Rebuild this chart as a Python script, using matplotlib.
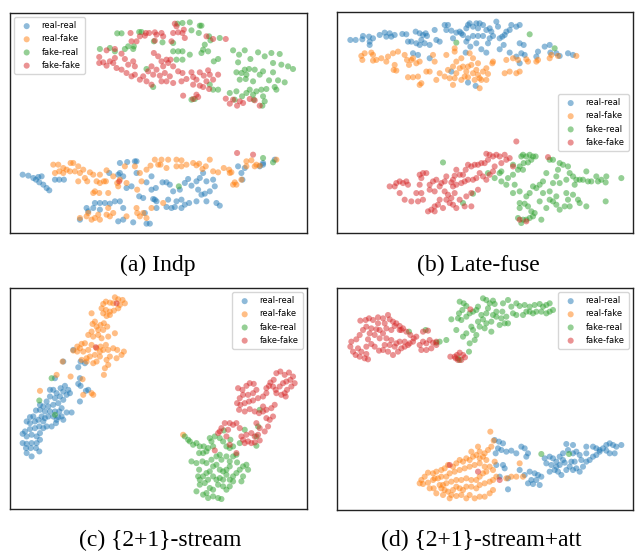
import matplotlib
matplotlib.use("Agg")
import matplotlib.pyplot as plt
import numpy as np

labels = ["real-real", "real-fake", "fake-real", "fake-fake"]
colors = ["#1f77b4", "#ff7f0e", "#2ca02c", "#d62728"]
captions = ["(a) Indp", "(b) Late-fuse", "(c) {2+1}-stream", "(d) {2+1}-stream+att"]

# ---------------- (a) Indp ----------------
indp_real_real = [(68,525),(85,528),(100,535),(108,540),(115,532),(125,530),(118,548),(130,555),(140,565),(148,572),
    (165,540),(178,540),(192,540),(360,490),(382,487),(405,485),(410,485),(328,520),(355,525),(360,520),(370,530),
    (380,565),(395,560),(410,520),(440,548),(455,530),(455,570),(468,565),(488,548),(500,548),(510,555),(520,575),
    (540,570),(555,550),(565,538),(575,558),(590,545),(600,535),(610,520),(620,545),(640,540),(645,560),(630,575),
    (605,585),(615,582),(595,570),(460,598),(470,605),(430,595),(418,590),(505,600),(530,605),(545,600),(555,615),
    (568,610),(590,605),(620,605),(650,610),(660,618),(500,622),(515,625),(525,622),(545,625),(360,605),(345,605),
    (330,612),(315,610),(300,610),(285,610),(265,635),(300,630),(370,625),(400,668),(440,672),(450,672),(370,660),
    (355,665),(715,500),(725,520),(735,505),(728,540),(790,495),(780,500),(790,490),(825,480),(470,625),(465,600),
    (435,640),(260,625),(280,625),(240,660)]
indp_real_fake = [(160,495),(175,495),(190,505),(212,490),(220,490),(235,500),(165,520),(178,515),(190,520),(200,510),
    (210,515),(225,515),(240,520),(250,510),(270,518),(280,525),(300,525),(290,545),(300,550),(312,545),(318,545),
    (235,545),(255,535),(262,545),(280,580),(285,575),(298,580),(325,580),(320,512),(340,530),(352,550),(360,540),
    (375,500),(405,500),(420,520),(425,545),(412,570),(465,480),(485,480),(475,495),(505,480),(530,480),(545,482),
    (545,500),(560,495),(580,490),(590,497),(598,492),(608,508),(618,500),(630,480),(640,515),(655,518),(672,505),
    (688,510),(690,520),(695,518),(700,555),(705,548),(710,555),(725,540),(740,485),(740,500),(755,482),(765,500),
    (770,495),(780,498),(830,480),(482,495),(500,505),(530,500),(452,498),(440,510),(490,610),(455,625),(430,640),
    (410,625),(412,640),(420,650),(440,655),(380,650),(340,640),(330,650),(320,645),(295,645),(285,655),(265,640),
    (260,650),(275,660),(300,660),(325,625),(240,655),(380,550),(355,560)]
indp_fake_real = [(352,101),(365,101),(418,97),(425,97),(548,70),(570,68),(533,72),(600,78),(605,78),(575,92),(597,100),
    (628,110),(632,122),(660,115),(488,128),(520,130),(520,155),(535,155),(548,155),(570,165),(605,160),(625,155),
    (615,135),(610,150),(530,180),(548,180),(642,185),(655,178),(700,152),(735,152),(775,158),(795,170),(815,160),
    (840,163),(718,165),(752,178),(715,188),(748,208),(735,210),(765,210),(790,215),(820,190),(845,195),(865,200),
    (880,208),(710,218),(725,220),(740,225),(780,225),(820,218),(808,242),(835,242),(855,248),(720,240),(738,238),
    (760,245),(785,270),(800,268),(825,262),(830,270),(750,270),(770,275),(690,280),(710,275),(740,280),(760,285),
    (790,290),(795,305),(788,318),(640,270),(655,270),(575,300),(585,298),(630,255),(460,262),(300,148),(330,145),
    (345,155),(375,148),(385,140),(400,148),(402,140),(440,208),(462,125),(762,300),(727,290),(705,300),(537,560),
    (790,475),(820,488)]
indp_fake_fake = [(525,72),(530,80),(552,90),(548,100),(535,98),(520,100),(485,100),(470,105),(465,98),(448,100),
    (435,108),(420,110),(392,100),(395,125),(410,125),(438,100),(490,110),(515,125),(555,115),(620,110),(678,118),
    (640,118),(320,152),(345,148),(298,172),(310,188),(320,198),(330,185),(345,175),(365,162),(375,178),(385,195),
    (400,185),(405,200),(350,205),(365,210),(380,220),(395,230),(405,225),(340,190),(298,190),(462,160),(475,170),
    (485,185),(500,180),(512,180),(490,200),(505,190),(470,210),(455,200),(445,215),(460,225),(440,245),(455,255),
    (480,228),(495,220),(510,230),(500,245),(485,245),(520,200),(535,215),(548,220),(545,245),(520,250),(575,218),
    (580,232),(600,218),(625,212),(612,228),(630,225),(590,240),(600,258),(580,255),(620,245),(610,262),(560,238),
    (628,268),(550,288),(590,285),(580,298),(595,292),(678,297),(690,312),(700,300),(720,305),(712,318),(730,310),
    (750,298),(765,302),(780,318),(420,240),(430,230),(640,240),(655,225),(712,460),(760,465),(358,545),(465,123)]

# ---------------- (b) Late-fuse ----------------
late_real_real = [(92,120),(108,120),(128,118),(130,108),(148,110),(150,125),(160,115),(180,105),(195,98),(200,110),
    (210,100),(215,110),(225,105),(248,102),(260,103),(265,125),(275,125),(288,95),(300,100),(305,120),(310,105),
    (318,100),(322,108),(290,130),(300,135),(315,130),(330,135),(350,120),(345,90),(360,125),(375,75),(385,75),
    (380,90),(395,92),(400,115),(410,98),(420,95),(425,100),(430,105),(440,85),(445,75),(450,70),(460,80),(470,70),
    (475,85),(480,70),(490,75),(500,90),(510,85),(515,95),(530,65),(535,80),(520,108),(510,115),(490,108),(475,108),
    (460,108),(445,115),(440,125),(438,158),(452,140),(470,130),(485,148),(505,130),(500,158),(540,115),(548,110),
    (552,135),(560,95),(570,90),(575,75),(590,80),(600,75),(555,105),(540,148),(570,158),(600,130),(612,135),
    (605,160),(615,165),(590,170),(600,190),(650,170),(655,155),(675,140),(690,135),(692,158),(710,160),(720,168),
    (745,160),(760,165),(280,160),(295,165),(330,175),(395,215),(445,248),(468,258),(150,135)]
late_real_fake = [(125,168),(128,180),(135,160),(155,158),(160,165),(160,182),(170,180),(185,175),(200,185),(205,170),
    (220,160),(225,195),(222,210),(230,212),(235,155),(255,165),(262,180),(275,180),(280,175),(268,195),(290,190),
    (300,185),(265,232),(280,232),(295,230),(300,255),(305,250),(320,215),(330,215),(345,185),(350,240),(375,230),
    (385,210),(390,235),(400,255),(405,235),(400,200),(410,185),(425,175),(420,205),(430,200),(435,230),(440,215),
    (445,200),(455,195),(460,220),(465,240),(470,210),(475,225),(480,235),(480,265),(485,240),(490,215),(500,240),
    (505,222),(500,205),(475,190),(460,175),(450,160),(405,145),(405,155),(380,165),(340,165),(560,180),(555,220),
    (570,215),(590,220),(600,215),(580,175),(595,180),(620,178),(625,185),(650,185),(655,180),(690,175),(695,165),
    (715,168),(770,168),(520,185),(518,190),(360,220),(425,240),(445,232),(410,220)]
late_fake_real = [(630,103),(410,128),(705,145),(370,488),(505,520),(540,520),(545,515),(580,495),(605,470),(610,465),
    (620,470),(630,465),(640,470),(648,470),(635,480),(625,488),(612,490),(600,500),(595,510),(610,510),(580,525),
    (565,535),(545,545),(525,535),(560,555),(585,555),(580,580),(600,575),(600,610),(615,612),(620,590),(630,580),
    (650,565),(640,560),(660,555),(670,545),(680,520),(690,480),(700,480),(720,490),(730,495),(745,500),(715,510),
    (710,530),(720,550),(740,540),(750,520),(760,530),(770,540),(765,555),(740,580),(760,585),(745,600),(775,600),
    (780,610),(800,620),(750,620),(735,620),(720,630),(710,615),(700,605),(690,600),(680,625),(660,605),(670,580),
    (690,575),(700,550),(710,590),(800,515),(815,545),(830,530),(835,545),(845,540),(858,548),(860,530),(905,535),
    (858,605),(805,545),(790,540),(780,540),(595,655),(605,670),(610,660),(620,660),(630,655),(640,650),(665,660),
    (645,640),(635,635),(625,620),(600,625),(460,582),(430,610)]
late_fake_fake = [(590,425),(685,472),(500,462),(510,465),(520,470),(530,465),(540,470),(555,465),(570,475),(505,480),
    (495,490),(485,490),(475,495),(465,495),(455,500),(445,495),(438,510),(430,525),(420,525),(410,510),(405,528),
    (400,540),(395,548),(380,530),(375,545),(365,550),(350,540),(340,545),(330,555),(320,520),(300,525),(305,535),
    (310,520),(300,555),(290,580),(305,580),(330,570),(345,575),(360,560),(375,575),(385,585),(395,595),(405,580),
    (400,560),(410,555),(425,550),(435,545),(445,540),(460,540),(470,535),(480,520),(490,530),(500,540),(510,525),
    (520,515),(525,500),(545,490),(560,480),(580,500),(475,570),(455,580),(440,590),(420,600),(400,615),(390,610),
    (380,600),(360,600),(355,615),(345,620),(335,630),(325,635),(310,600),(295,605),(275,605),(255,600),(230,550),
    (225,560),(240,545),(250,550),(260,545),(265,555),(210,560),(240,580),(435,620),(455,620),(410,625),(370,625),
    (345,635),(600,660),(620,665)]

# ---------------- (c) {2+1}-stream ----------------
stream_real_real = [(220,210),(190,245),(242,245),(255,250),(235,262),(240,295),(165,295),(235,312),(242,318),(150,330),
    (160,330),(170,340),(182,325),(195,318),(190,335),(205,330),(210,340),(200,345),(180,350),(165,355),(150,350),
    (140,365),(120,375),(130,380),(145,380),(160,375),(175,370),(190,360),(185,385),(178,395),(165,395),(150,395),
    (135,395),(120,390),(108,392),(100,410),(90,412),(80,425),(90,430),(105,425),(115,420),(125,410),(135,415),
    (145,410),(160,410),(175,412),(185,410),(200,398),(215,398),(168,430),(155,440),(140,440),(130,445),(118,440),
    (105,445),(90,448),(75,455),(68,462),(80,470),(95,465),(110,470),(120,480),(110,490),(95,490),(80,492),(68,490),
    (78,505),(92,505),(108,505),(118,515),(95,530),(80,520),(120,460),(130,425),(265,330),(240,365),(258,333),
    (170,420),(190,420)]
stream_real_fake = [(345,52),(355,58),(368,60),(375,70),(360,75),(340,70),(330,68),(318,65),(310,72),(305,85),(318,90),
    (330,95),(342,92),(355,85),(330,105),(320,108),(310,100),(285,125),(278,132),(290,140),(302,135),(312,130),
    (322,140),(310,150),(295,150),(275,155),(265,165),(280,170),(295,165),(305,175),(345,160),(325,170),(255,190),
    (245,192),(232,200),(220,212),(232,215),(240,205),(250,215),(265,210),(275,195),(290,205),(302,200),(300,215),
    (310,210),(318,195),(325,210),(340,205),(352,210),(372,215),(365,225),(350,235),(330,230),(320,240),(325,255),
    (315,265),(312,285),(285,225),(270,230),(260,235),(245,240),(260,245),(280,250),(290,245),(300,230),(248,298),
    (212,290),(170,285),(120,333),(250,345),(280,345),(275,340),(188,245),(275,100),(550,465)]
stream_fake_real = [(155,295),(118,362),(165,405),(555,470),(565,480),(570,485),(672,452),(580,495),(590,490),(600,500),
    (612,500),(625,505),(640,500),(635,485),(630,475),(645,470),(660,475),(670,485),(680,500),(690,505),(700,500),
    (692,480),(598,520),(610,520),(620,515),(575,545),(590,550),(608,545),(620,550),(635,540),(650,530),(660,525),
    (665,540),(680,530),(690,545),(700,530),(710,525),(712,548),(690,560),(680,570),(670,575),(660,570),(650,555),
    (640,560),(630,575),(620,580),(610,590),(600,600),(615,610),(625,600),(640,590),(650,600),(660,595),(670,600),
    (680,585),(690,600),(700,590),(710,580),(720,570),(730,560),(740,555),(745,570),(730,590),(725,605),(700,605),
    (690,620),(680,630),(670,620),(655,615),(640,630),(630,625),(620,640),(610,645),(625,655),(640,650),(655,655),
    (665,658),(600,615),(595,590),(598,570),(590,635),(770,498),(775,440),(780,390),(770,470),(735,450),(720,490)]
stream_fake_fake = [(715,325),(728,330),(740,318),(750,310),(762,312),(770,330),(760,340),(745,345),(730,345),(720,355),
    (712,370),(722,375),(735,370),(748,365),(760,362),(775,355),(790,350),(800,340),(808,318),(812,308),(822,300),
    (830,280),(842,275),(855,285),(868,278),(880,290),(872,300),(860,305),(850,310),(840,320),(828,330),(820,320),
    (830,340),(845,345),(855,340),(862,330),(875,320),(885,310),(858,350),(800,325),(718,390),(735,395),(750,388),
    (765,395),(778,400),(790,395),(800,390),(815,385),(825,375),(790,380),(800,415),(810,420),(820,410),(805,440),
    (795,455),(780,445),(770,430),(775,465),(765,470),(755,460),(740,465),(725,470),(730,480),(745,485),(755,490),
    (765,488),(780,482),(735,490),(710,520),(645,512),(655,460),(665,445),(675,430),(690,430),(700,435),(710,430),
    (720,445),(685,450),(680,470),(660,455),(690,495),(350,70),(288,202)]

# ---------------- (d) {2+1}-stream+att ----------------
att_real_real = [(525,480),(538,485),(550,490),(535,505),(545,510),(528,520),(560,515),(575,512),(590,520),(605,500),
    (615,505),(625,520),(620,530),(530,555),(550,555),(555,565),(540,590),(565,595),(565,628),(600,570),(630,575),
    (645,580),(655,585),(665,590),(650,600),(635,600),(625,610),(640,612),(615,585),(660,615),(675,535),(690,530),
    (700,535),(710,545),(680,550),(695,555),(705,570),(715,575),(690,575),(725,585),(740,570),(750,560),(760,570),
    (770,565),(780,575),(790,560),(800,545),(810,540),(820,530),(830,525),(840,515),(850,505),(860,495),(870,490),
    (880,495),(890,500),(905,495),(885,520),(870,520),(860,512),(840,510),(830,505),(820,500),(800,520),(780,525),
    (760,520),(745,510),(730,520),(720,530),(740,492),(760,495),(770,515),(755,545),(735,548),(720,555),(710,560),
    (765,545),(785,540),(800,500),(730,540)]
att_real_fake = [(512,455),(522,482),(515,500),(505,510),(495,520),(480,515),(470,525),(460,530),(450,540),(440,535),
    (430,545),(420,540),(410,550),(400,560),(375,565),(365,570),(350,575),(340,580),(325,578),(315,590),(305,600),
    (300,610),(310,612),(325,608),(340,600),(355,595),(365,590),(380,590),(390,580),(405,575),(420,570),(435,565),
    (450,560),(465,555),(480,550),(495,560),(500,575),(490,580),(480,590),(470,600),(455,600),(440,595),(425,600),
    (410,600),(395,605),(380,610),(370,615),(360,615),(365,625),(375,630),(385,635),(400,630),(410,620),(420,625),
    (430,630),(440,620),(455,620),(470,625),(480,615),(495,610),(510,605),(520,600),(530,590),(520,570),(510,560),
    (525,545),(500,540),(490,530),(455,515),(475,500),(480,535),(395,645),(410,648),(425,645),(450,645),(465,655),
    (480,650),(495,650),(510,640),(520,630),(440,655),(390,655),(370,645),(350,640),(560,595),(575,590),(590,590),
    (385,555),(345,595),(330,625),(342,625),(600,550),(610,590)]
att_fake_real = [(420,65),(432,70),(440,78),(428,90),(418,100),(415,115),(425,120),(395,118),(440,110),(450,100),
    (460,95),(470,90),(475,80),(490,55),(500,60),(510,70),(520,62),(525,72),(505,85),(500,100),(485,105),(490,118),
    (475,125),(455,140),(460,150),(470,165),(465,180),(450,190),(448,215),(430,170),(440,160),(410,150),(380,180),
    (360,185),(350,188),(268,155),(318,150),(550,70),(565,60),(575,80),(580,100),(590,70),(600,78),(615,75),(630,80),
    (645,75),(660,72),(670,80),(680,75),(690,70),(700,90),(690,95),(680,100),(665,95),(650,95),(640,100),(630,95),
    (620,95),(610,105),(590,105),(560,110),(545,115),(530,110),(520,105),(515,125),(540,135),(555,130),(565,130),
    (500,130),(495,145),(515,155),(480,140),(530,95),(548,95),(415,235),(420,240),(665,522),(748,522)]
att_fake_fake = [(122,122),(138,120),(148,115),(160,120),(175,112),(190,115),(205,105),(210,118),(220,125),(230,130),
    (240,138),(250,145),(260,155),(272,165),(282,175),(290,170),(280,185),(270,190),(255,185),(240,185),(230,190),
    (215,180),(200,175),(190,160),(180,150),(170,148),(155,145),(140,140),(130,150),(120,165),(110,178),(95,185),
    (92,200),(100,215),(108,225),(120,230),(135,235),(145,238),(140,222),(125,215),(115,205),(140,200),(155,192),
    (165,200),(178,212),(190,210),(205,215),(220,225),(235,215),(245,205),(255,200),(265,195),(150,160),(165,165),
    (180,175),(195,195),(210,195),(225,200),(300,195),(310,185),(320,190),(330,180),(340,188),(350,195),(335,205),
    (320,210),(305,210),(175,130),(195,130),(225,138),(245,150),(215,150),(200,145),(310,155),(325,152),(350,185),
    (452,88),(240,150),(405,230),(412,225),(420,218),(430,225),(425,240),(415,240),(408,235),(436,232),(392,230),
    (145,178),(390,555),(475,575),(540,600)]

panels = [
    ([indp_real_real, indp_real_fake, indp_fake_real, indp_fake_fake], (30, 922), (700, 40), "upper left"),
    ([late_real_real, late_real_fake, late_fake_real, late_fake_fake], (52, 940), (700, 36), "center right"),
    ([stream_real_real, stream_real_fake, stream_fake_real, stream_fake_fake], (30, 922), (688, 24), "upper right"),
    ([att_real_real, att_real_fake, att_fake_real, att_fake_fake], (52, 940), (690, 24), "upper right"),
]

fig = plt.figure(figsize=(6.35, 5.52), dpi=100)
rects = [
    [10/635, 1-233/552, 297/635, 220/552],
    [337/635, 1-233/552, 296/635, 221/552],
    [10/635, 1-509/552, 297/635, 221/552],
    [337/635, 1-510/552, 296/635, 222/552],
]
cap_pos = [(158/635, 1-265/552), (478/635, 1-265/552), (160/635, 1-540/552), (481/635, 1-540/552)]

for (groups, xl, yl, loc), rect, cap, cp in zip(panels, rects, captions, cap_pos):
    ax = fig.add_axes(rect)
    for pts, lab, col in zip(groups, labels, colors):
        arr = np.array(pts, dtype=float)
        ax.scatter(arr[:, 0], arr[:, 1], s=19, c=col, alpha=0.5, edgecolors="none", label=lab)
    ax.set_xlim(*xl)
    ax.set_ylim(*yl)
    ax.set_xticks([])
    ax.set_yticks([])
    for sp in ax.spines.values():
        sp.set_color("#222222")
        sp.set_linewidth(1.0)
    ax.legend(loc=loc, fontsize=6.0, frameon=True, handletextpad=0.8, borderpad=0.5,
              labelspacing=0.5, markerscale=1.0)
    fig.text(cp[0], cp[1], cap, ha="center", va="center", fontsize=17, family="Liberation Serif")

fig.savefig("out.png", dpi=100)
